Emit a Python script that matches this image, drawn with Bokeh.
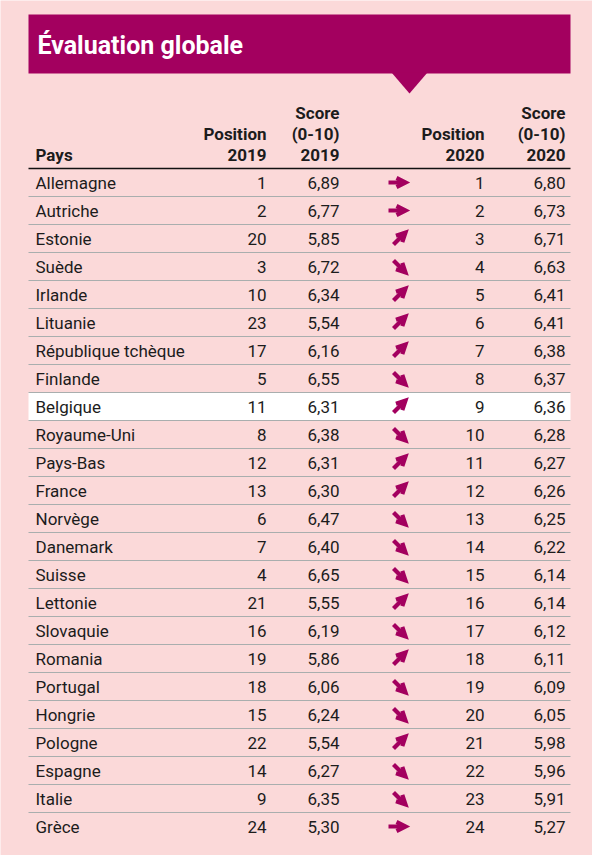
from bokeh.plotting import figure
from bokeh.models import Range1d, ColumnDataSource, Arrow, OpenHead
from bokeh.core.properties import value
from bokeh.embed import file_html
from bokeh.resources import INLINE

title = "Évaluation globale"
headers = [["Pays"], ["Position", "2019"], ["Score", "(0-10)", "2019"],
           ["Position", "2020"], ["Score", "(0-10)", "2020"]]
countries = ["Allemagne", "Autriche", "Estonie", "Suède", "Irlande", "Lituanie",
             "République tchèque", "Finlande", "Belgique", "Royaume-Uni", "Pays-Bas",
             "France", "Norvège", "Danemark", "Suisse", "Lettonie", "Slovaquie",
             "Romania", "Portugal", "Hongrie", "Pologne", "Espagne", "Italie", "Grèce"]
pos2019 = [1, 2, 20, 3, 10, 23, 17, 5, 11, 8, 12, 13, 6, 7, 4, 21, 16, 19, 18, 15, 22, 14, 9, 24]
score2019 = [6.89, 6.77, 5.85, 6.72, 6.34, 5.54, 6.16, 6.55, 6.31, 6.38, 6.31, 6.30,
             6.47, 6.40, 6.65, 5.55, 6.19, 5.86, 6.06, 6.24, 5.54, 6.27, 6.35, 5.30]
pos2020 = [1, 2, 3, 4, 5, 6, 7, 8, 9, 10, 11, 12, 13, 14, 15, 16, 17, 18, 19, 20, 21, 22, 23, 24]
score2020 = [6.80, 6.73, 6.71, 6.63, 6.41, 6.41, 6.38, 6.37, 6.36, 6.28, 6.27, 6.26,
             6.25, 6.22, 6.14, 6.14, 6.12, 6.11, 6.09, 6.05, 5.98, 5.96, 5.91, 5.27]
highlight = "Belgique"

BG = "#fbd9d9"
ACC = "#a3005f"
TXT = "#1c1c1c"
FONT = "Roboto"
FS = "17px"

# layout (page pixel coordinates)
L, R = 28, 570
ROW0, STEP = 182, 28
col_right = [None, 266, 339, 484, 565]
col_left = 35
arrow_x = 397

p = figure(width=592, height=855, output_backend="svg", toolbar_location=None,
           x_range=Range1d(0, 592), y_range=Range1d(855, 0), min_border=0)
p.axis.visible = False
p.grid.visible = False
p.outline_line_color = None
p.background_fill_color = BG
p.border_fill_color = BG

# banner
p.quad(left=[L], right=[R], top=[14], bottom=[73], color=ACC, line_color=None)
p.patch(x=[391, 427, 409], y=[72, 72, 93], color=ACC, line_color=None)
p.text(x=[37], y=[45], text=[title], text_color="white", text_font=value(FONT),
       text_font_style="bold", text_font_size="25px", text_baseline="middle")

# headers
for ci, lines in enumerate(headers):
    n = len(lines)
    ys = [154 - 21 * (n - 1 - k) for k in range(n)]
    if ci == 0:
        p.text(x=[col_left] * n, y=ys, text=lines, text_color=TXT, text_font=value(FONT),
               text_font_style="bold", text_font_size=FS, text_baseline="middle")
    else:
        p.text(x=[col_right[ci]] * n, y=ys, text=lines, text_color=TXT, text_font=value(FONT),
               text_font_style="bold", text_font_size=FS, text_baseline="middle",
               text_align="right")

n = len(countries)
ys = [ROW0 + STEP * i for i in range(n)]

# highlight row
hi = countries.index(highlight)
p.quad(left=[L], right=[R], top=[ys[hi] - STEP / 2], bottom=[ys[hi] + STEP / 2],
       color="white", line_color=None)

# separators
p.segment(x0=[L] * (n - 1), x1=[R] * (n - 1), y0=[y + STEP / 2 for y in ys[:-1]],
          y1=[y + STEP / 2 for y in ys[:-1]], line_color="#a9aeae", line_width=1.2)
p.segment(x0=[L], x1=[R], y0=[ys[0] - STEP / 2], y1=[ys[0] - STEP / 2],
          line_color="#111111", line_width=1.6)

fmt = lambda v: f"{v:.2f}".replace(".", ",")
src = ColumnDataSource(dict(
    y=ys, c=countries, p19=[str(v) for v in pos2019], s19=[fmt(v) for v in score2019],
    p20=[str(v) for v in pos2020], s20=[fmt(v) for v in score2020]))

common = dict(source=src, y="y", text_color=TXT, text_font=value(FONT),
              text_font_size=FS, text_baseline="middle")
p.text(x=col_left, text="c", **common)
p.text(x=col_right[1], text="p19", text_align="right", **common)
p.text(x=col_right[2], text="s19", text_align="right", **common)
p.text(x=col_right[3], text="p20", text_align="right", **common)
p.text(x=col_right[4], text="s20", text_align="right", **common)

# arrows derived from rank change
x0, x1, y0, y1 = [], [], [], []
for y, a, b in zip(ys, pos2019, pos2020):
    if a == b:
        x0.append(arrow_x - 9); x1.append(arrow_x + 8); y0.append(y); y1.append(y)
    elif b < a:
        x0.append(arrow_x - 4); x1.append(arrow_x + 8); y0.append(y + 6); y1.append(y - 6)
    else:
        x0.append(arrow_x - 4); x1.append(arrow_x + 8); y0.append(y - 6); y1.append(y + 6)
asrc = ColumnDataSource(dict(x0=x0, x1=x1, y0=y0, y1=y1))
p.add_layout(Arrow(x_start="x0", y_start="y0", x_end="x1", y_end="y1", source=asrc,
                   line_color=ACC, line_width=4.2, line_cap="butt",
                   end=OpenHead(line_color=ACC, line_width=4.2, size=9,
                                line_join="miter", line_cap="butt")))

open("out.html", "w").write(file_html(p, INLINE))
